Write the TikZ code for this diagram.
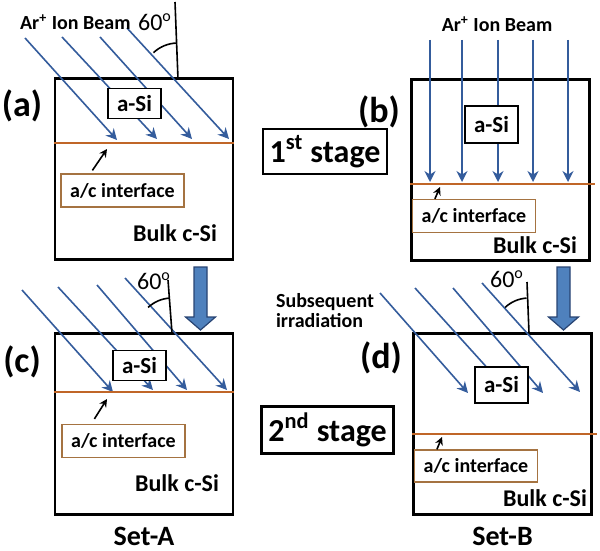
\documentclass[tikz,border=0pt]{standalone}
\usepackage{fontspec}
\setmainfont{Carlito}
\usepackage{tikz}
\usetikzlibrary{positioning,arrows.meta,calc}

\definecolor{beamblue}{RGB}{52,92,156}
\definecolor{ifaceorange}{RGB}{192,102,40}
\definecolor{acbrown}{RGB}{165,115,65}
\definecolor{bigfill}{RGB}{79,129,189}
\definecolor{bigdraw}{RGB}{40,68,115}

\tikzset{
    sample/.style={draw, line width=1.2pt, minimum width=89pt,
        minimum height=90.5pt, inner sep=0pt},
    asi/.style={draw, fill=white, line width=0.6pt, font=\bfseries\fontsize{11.5}{12}\selectfont,
        inner xsep=4.5pt, minimum height=15pt},
    acbox/.style={draw=acbrown, fill=white, line width=0.6pt,
        font=\bfseries\fontsize{10}{11}\selectfont, minimum width=61.5pt, minimum height=16.5pt},
    bulk/.style={font=\bfseries\fontsize{12}{13}\selectfont},
    panel/.style={font=\bfseries\fontsize{18}{20}\selectfont},
    stagebox/.style={draw, line width=1.2pt, font=\bfseries\fontsize{16}{18}\selectfont,
        minimum height=21.5pt},
    beamlabel/.style={font=\bfseries\fontsize{10}{11}\selectfont},
    anglabel/.style={font=\fontsize{12}{13}\selectfont},
    setlabel/.style={font=\bfseries\fontsize{14}{15}\selectfont},
    beam/.style={draw=beamblue, line width=0.8pt, -{Stealth[length=5.5pt,width=5.5pt]}},
    iface/.style={draw=ifaceorange, line width=1.4pt},
    pointer/.style={draw, line width=0.8pt, -{Stealth[length=4pt,width=4pt]}},
    normal/.style={draw, line width=0.8pt},
    bigarrow/.style={fill=bigfill, draw=bigdraw, line width=0.6pt},
}

\begin{document}
\begin{tikzpicture}[x=0.5pt, y=-0.5pt]
    \useasboundingbox (0,0) rectangle (600,551);

    % ---- (a) first stage, oblique
    \node[sample] (boxA) at (144,169) {};
    \foreach \sx/\sy/\ex/\ey in {25/38/117/140, 62/37/157/139,
        100/37/192/139, 127/28/229/139}
        \draw[beam] (\sx,\sy) -- (\ex,\ey);
    \draw[iface] (boxA.west |- 0,143) -- (boxA.east |- 0,143);
    \coordinate (jA) at (178,79);
    \draw[normal] (175,2) -- (jA);
    \draw[line width=0.8pt] (jA) ++(227:36) arc[start angle=227, end angle=268, radius=36];
    \node[asi] (asiA) at (134.5,103.5) {a-Si};
    \node[acbox] (acA) at (122.5,190.5) {a/c interface};
    \coordinate (tipA) at (107,149);
    \draw[pointer] (acA.north west) ++(32,-3) -- (tipA);
    \node[bulk] (bulkA) at (175,233) {Bulk c-Si};
    \node[panel] (labA) at (22,106) {(a)};
    \node[beamlabel, anchor=west] (beamA) at (13,22) {Ar\textsuperscript{+} Ion Beam};
    \node[anglabel] (angA) at (155,22) {60\textsuperscript{o}};

    % ---- (b) first stage, normal
    \node[sample] (boxB) at (500.5,170) {};
    \foreach \x in {430,462,498,533,568}
        \draw[beam] (\x,40) -- (\x,182);
    \draw[iface] (boxB.west |- 0,184) -- ($(boxB.east |- 0,184)+(4,0)$);
    \node[asi] (asiB) at (491.5,124.5) [minimum height=18.5pt] {a-Si};
    \node[acbox] (acB) at (474,216) {a/c interface};
    \coordinate (tipB) at (440,187);
    \draw[pointer] (acB.north west) ++(23,0) -- (tipB);
    \node[bulk] (bulkB) at (535,245) {Bulk c-Si};
    \node[panel] (labB) at (379,112) {(b)};
    \node[beamlabel] (beamB) at (497,24) {Ar\textsuperscript{+} Ion Beam};

    % ---- stage boxes
    \node[stagebox, minimum width=58pt] (stage1) at (325,151.5) {1\textsuperscript{st} stage};
    \node[stagebox, minimum width=60.5pt] (stage2) at (327.5,430) {2\textsuperscript{nd} stage};

    % ---- big arrows between stages
    \foreach \cx in {200.5,563.5}
        \draw[bigarrow] (\cx-6.5,267) -- (\cx+6.5,267) -- (\cx+6.5,317) -- (\cx+15,317)
            -- (\cx,330) -- (\cx-15,317) -- (\cx-6.5,317) -- cycle;

    % ---- (c) second stage, set A
    \node[sample] (boxC) at (144,424) {};
    \foreach \sx/\sy/\ex/\ey in {22/290/113/392, 58/287/153/390,
        97/285/187/390, 125/278/227/390}
        \draw[beam] (\sx,\sy) -- (\ex,\ey);
    \draw[iface] (boxC.west |- 0,392) -- (boxC.east |- 0,392);
    \coordinate (jC) at (172,333);
    \draw[normal] (168,280) -- (jC);
    \draw[line width=0.8pt] (jC) ++(227:35) arc[start angle=227, end angle=266, radius=35];
    \node[asi] (asiC) at (139.5,365.5) {a-Si};
    \node[acbox] (acC) at (123.5,441) {a/c interface};
    \coordinate (tipC) at (107,399);
    \draw[pointer] (acC.north west) ++(33,-5) -- (tipC);
    \node[bulk] (bulkC) at (177,483) {Bulk c-Si};
    \node[panel] (labC) at (22,362) {(c)};
    \node[anglabel] (angC) at (154,281) {60\textsuperscript{o}};
    \node[setlabel, below=2pt of boxC] (setA) {Set-A};

    % ---- (d) second stage, set B
    \node[sample] (boxD) at (502.5,424) {};
    \foreach \sx/\sy/\ex/\ey in {380/293/468/393, 415/288/510/393,
        453/288/543/393, 482/283/580/392}
        \draw[beam] (\sx,\sy) -- (\ex,\ey);
    \draw[iface] (boxD.west |- 0,434) -- ($(boxD.east |- 0,434)+(4,0)$);
    \coordinate (jD) at (529,333);
    \draw[normal] (527,282) -- (jD);
    \draw[line width=0.8pt] (jD) ++(227:35) arc[start angle=227, end angle=266, radius=35];
    \node[asi] (asiD) at (501.5,385) [minimum height=18pt] {a-Si};
    \node[acbox] (acD) at (476,466) [minimum height=16pt] {a/c interface};
    \coordinate (tipD) at (442,437);
    \draw[pointer] (acD.north west) ++(23,0) -- (tipD);
    \node[bulk] (bulkD) at (545,498) {Bulk c-Si};
    \node[panel] (labD) at (381,358) {(d)};
    \node[anglabel] (angD) at (507,279) {60\textsuperscript{o}};
    \node[beamlabel, anchor=north west, align=left,
        font=\bfseries\fontsize{10}{10}\selectfont] (subseq) at (269,286)
        {Subsequent\\irradiation};
    \node[setlabel, below=2pt of boxD] (setB) {Set-B};
\end{tikzpicture}
\end{document}
